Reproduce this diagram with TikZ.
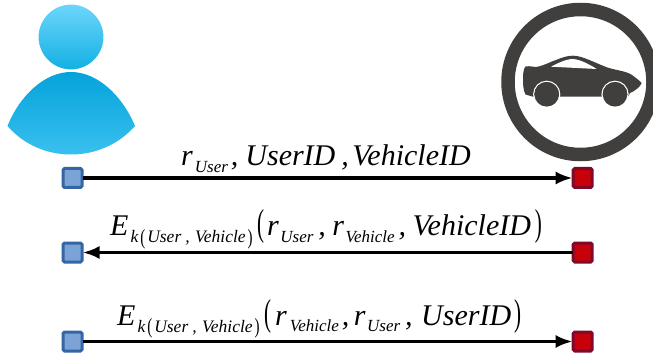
\documentclass[tikz,border=0pt]{standalone}
\usepackage{fontspec}
\setmainfont{Liberation Serif}
\usetikzlibrary{arrows.meta}
\definecolor{userblue}{HTML}{3465A4}
\definecolor{userfill}{HTML}{7BA3D6}
\definecolor{carred}{HTML}{7D0A2A}
\definecolor{carfill}{HTML}{C8000A}
\definecolor{cargray}{HTML}{403F3D}
\definecolor{headtop}{RGB}{109,214,251}
\definecolor{headlow}{RGB}{18,176,227}
\definecolor{bodytop}{RGB}{5,163,218}
\definecolor{bodylow}{RGB}{57,192,239}
\tikzset{
  userport/.style={draw=userblue,fill=userfill,line width=3pt,rounded corners=1.5pt,minimum size=19pt,inner sep=0pt},
  carport/.style={draw=carred,fill=carfill,line width=3pt,rounded corners=1.5pt,minimum size=19pt,inner sep=0pt},
  msgline/.style={line width=3.5pt,black,shorten <=-1pt,shorten >=-1pt},
  msgtip/.style={-{Latex[length=17pt,width=13pt]}},
  msgrev/.style={{Latex[length=17pt,width=13pt]}-},
  msgtext/.style={anchor=base west,inner sep=0pt,font=\fontsize{30}{30}\selectfont\itshape}
}
\newcommand{\subtxt}[1]{\raisebox{-6.5pt}{\fontsize{17}{17}\selectfont #1}}
\newcommand{\ksub}[1]{\raisebox{-7pt}{\fontsize{17.5}{17.5}\selectfont #1}}
\newcommand{\gap}[1]{\hspace*{#1pt}}
\newcommand{\kpart}{\gap{2}\ksub{k}\gap{2}\raisebox{-8pt}{\resizebox{5pt}{15pt}{\upshape (}}\gap{2}\ksub{User}\gap{4}\ksub{,}\gap{5.5}\ksub{Vehicle}\gap{2}\raisebox{-8pt}{\resizebox{5pt}{15pt}{\upshape )}}}
\newcommand{\tallopen}{\resizebox{7pt}{26pt}{\upshape (}}
\newcommand{\tallclose}{\resizebox{7pt}{26pt}{\upshape )}}
\begin{document}
\begin{tikzpicture}[x=1pt,y=-1pt]
  \clip (0,0) rectangle (653,358);
  % user
  \shade[top color=headtop,bottom color=headlow] (71,37) circle (33);
  \draw[white,line width=1pt] (71,37) circle (33);
  \shade[top color=bodytop,bottom color=bodylow]
    (7.5,126) .. controls (20,95) and (45,72) .. (71,72) .. controls (97,72) and (122,95) .. (135,126)
    .. controls (118,145) and (95,154.5) .. (71,154.5) .. controls (47,154.5) and (24,145) .. (7.5,126) -- cycle;
  % vehicle
  \draw[cargray,line width=13.5pt] (580.5,82) circle (72.5);
  \fill[cargray] (523,78) .. controls (523,72) and (524,68) .. (525.5,66.5) .. controls (530,65.5) and (534,67.5) .. (538,66.7)
    .. controls (545,65) and (550,62) .. (556,60) .. controls (562,57.5) and (568,55.5) .. (573,55.7)
    .. controls (582,55.5) and (595,63) .. (608,67.7) .. controls (617,70.5) and (626,71) .. (632,75)
    .. controls (636,78) and (640,81) .. (641.7,83) .. controls (640,87) and (635,91) .. (630,93)
    -- (628,96.7) -- (533,96.7) -- (525.5,94.5) .. controls (523,90) and (523,84) .. (523,78) -- cycle;
  \fill[white] (551,66.7) .. controls (557,63.5) and (564,60) .. (571,59) .. controls (578,58.5) and (588,63.5) .. (596.7,69) -- cycle;
  \fill[cargray,draw=white,line width=1.2pt] (546.7,94.3) circle (13);
  \fill[cargray,draw=white,line width=1.2pt] (615,94.3) circle (13);
  \fill[white] (530,97) rectangle (563,109);
  \fill[white] (598,97) rectangle (632,109);
  \fill[cargray] (546.7,94.3) circle (12.3);
  \fill[cargray] (615,94.3) circle (12.3);
  % ports
  \node[userport] (userA) at (72.5,178) {};
  \node[carport] (carA) at (582.7,178) {};
  \node[userport] (userB) at (72.5,252.5) {};
  \node[carport] (carB) at (582.7,252.5) {};
  \node[userport] (userC) at (72.5,341.5) {};
  \node[carport] (carC) at (582.7,341.5) {};
  \draw[msgline,msgtip] (userA) -- (carA);
  \draw[msgline,msgrev] (userB) -- (carB);
  \draw[msgline,msgtip] (userC) -- (carC);
  % messages
  \node[msgtext] (msgA) at (181,166) {r\gap{2}\subtxt{User}\gap{3},\gap{7}UserID\gap{6},\gap{3.5}VehicleID};
  \node[msgtext] (msgB) at (110,236) {E\kpart\gap{4.5}\tallopen\gap{3}r\gap{1.5}\subtxt{User}\gap{5},\gap{6.5}r\gap{1.5}\subtxt{Vehicle}\gap{4},\gap{6.5}VehicleID\gap{4}\tallclose};
  \node[msgtext] (msgC) at (117,325) {E\kpart\gap{4.5}\tallopen\gap{4}r\gap{3}\subtxt{Vehicle}\gap{3},\gap{4.5}r\gap{1.5}\subtxt{User}\gap{5},\gap{8.5}UserID\gap{3}\tallclose};
\end{tikzpicture}
\end{document}
